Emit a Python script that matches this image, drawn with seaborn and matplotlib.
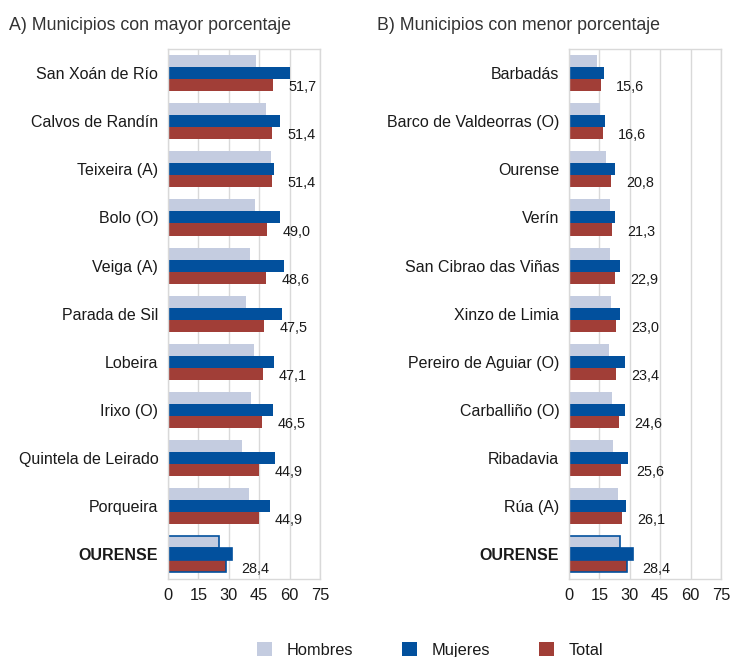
import pandas as pd
import seaborn as sns
import matplotlib.pyplot as plt
from matplotlib.patches import Patch

# panel A - municipios con mayor porcentaxe
mun_a = ["San Xoán de Río", "Calvos de Randín", "Teixeira (A)", "Bolo (O)", "Veiga (A)",
         "Parada de Sil", "Lobeira", "Irixo (O)", "Quintela de Leirado", "Porqueira", "OURENSE"]
hombres_a = [43.6, 48.3, 51.0, 43.1, 40.6, 38.6, 42.6, 41.2, 36.5, 39.9, 25.4]
mujeres_a = [60.2, 55.4, 52.5, 55.4, 57.4, 56.4, 52.3, 52.0, 53.0, 50.5, 31.8]
total_a = [51.7, 51.4, 51.4, 49.0, 48.6, 47.5, 47.1, 46.5, 44.9, 44.9, 28.4]

# panel B - municipios con menor porcentaxe
mun_b = ["Barbadás", "Barco de Valdeorras (O)", "Ourense", "Verín", "San Cibrao das Viñas",
         "Xinzo de Limia", "Pereiro de Aguiar (O)", "Carballiño (O)", "Ribadavia", "Rúa (A)", "OURENSE"]
hombres_b = [13.7, 15.3, 18.3, 20.0, 20.3, 20.8, 19.5, 21.4, 21.6, 24.1, 25.4]
mujeres_b = [17.3, 18.0, 22.8, 22.6, 25.4, 25.2, 27.4, 27.7, 29.0, 28.0, 31.8]
total_b = [15.6, 16.6, 20.8, 21.3, 22.9, 23.0, 23.4, 24.6, 25.6, 26.1, 28.4]

series = ["Hombres", "Mujeres", "Total"]
colores = {"Hombres": "#c4cce0", "Mujeres": "#02509d", "Total": "#a13e37"}
ticks = [0, 15, 30, 45, 60, 75]

sns.set_style("white")
plt.rcParams['font.family'] = ['Liberation Sans', 'DejaVu Sans']

W, H = 731, 657
fig = plt.figure(figsize=(W / 100, H / 100), dpi=100)


def long_df(mun, h, m, t):
    rows = []
    for i, name in enumerate(mun):
        rows.append((name, "Hombres", h[i]))
        rows.append((name, "Mujeres", m[i]))
        rows.append((name, "Total", t[i]))
    return pd.DataFrame(rows, columns=["municipio", "serie", "valor"])


def panel(left, mun, h, m, t, title, title_x):
    ax = fig.add_axes([left / W, 1 - 578.5 / H, 152 / W, 529.5 / H])
    df = long_df(mun, h, m, t)
    sns.barplot(data=df, x="valor", y="municipio", hue="serie", hue_order=series,
                order=mun, palette=colores, orient="h", width=0.75, saturation=1,
                linewidth=0, errorbar=None, legend=False, ax=ax)
    ax.set_xlim(0, 75)
    ax.set_xticks(ticks)
    ax.set_xlabel("")
    ax.set_ylabel("")
    ax.grid(axis="x", color="#d9d9d9", linewidth=1)
    ax.set_axisbelow(True)
    for s in ax.spines.values():
        s.set_color("#d9d9d9")
        s.set_linewidth(1)
    ax.tick_params(axis="both", length=0, colors="#1a1a1a")
    ax.tick_params(axis="y", pad=7, labelsize=11.5)
    ax.tick_params(axis="x", pad=6.5, labelsize=11.8)
    ax.get_yticklabels()[-1].set_fontweight("bold")

    # highlight OURENSE row
    for cont in ax.containers:
        bar = cont.patches[-1]
        bar.set_edgecolor("#02509d")
        bar.set_linewidth(1.2)

    # value labels for Total
    for bar, v in zip(ax.containers[2].patches, t):
        ax.annotate(f"{v:.1f}".replace(".", ","),
                    (bar.get_width(), bar.get_y() + bar.get_height() / 2),
                    xytext=(11, -1.5), textcoords="offset points",
                    ha="left", va="center", fontsize=10.4, color="#1a1a1a",
                    annotation_clip=False)

    fig.text(title_x / W, 1 - 25 / H, title, fontsize=12.8, color="#333333",
             ha="left", va="center")
    return ax


panel(168, mun_a, hombres_a, mujeres_a, total_a, "A) Municipios con mayor porcentaje", 9)
panel(569, mun_b, hombres_b, mujeres_b, total_b, "B) Municipios con menor porcentaje", 377)

handles = [Patch(facecolor=colores[s], edgecolor="none") for s in series]
fig.legend(handles, series, loc="center", bbox_to_anchor=(430 / W, 1 - 650 / H),
           ncol=3, frameon=False, fontsize=11.8, handlelength=0.9, handleheight=0.9,
           handletextpad=0.9, columnspacing=3.0, labelcolor="#1a1a1a")

fig.savefig("out.png", dpi=100)
